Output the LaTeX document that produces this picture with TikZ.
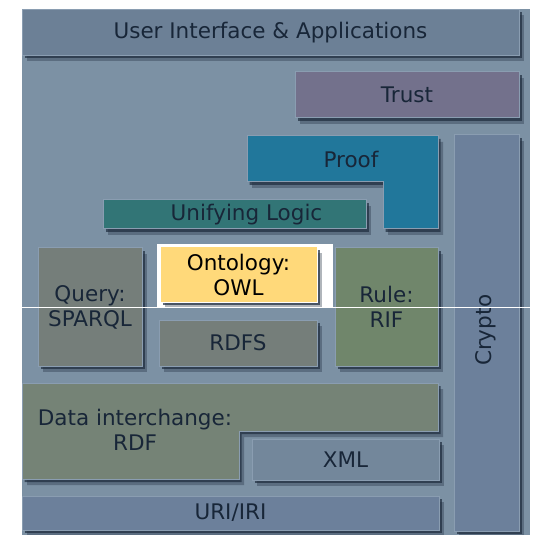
\documentclass[tikz,border=0pt]{standalone}
\usepackage{fontspec}
\setmainfont{DejaVu Sans}
\usepackage{tikz}
\usetikzlibrary{shadows}

\definecolor{panelbg}{RGB}{124,145,164}
\definecolor{edgeline}{RGB}{138,157,177}
\definecolor{inktext}{RGB}{24,38,56}
\definecolor{uicol}{RGB}{108,128,150}
\definecolor{trustcol}{RGB}{115,113,140}
\definecolor{proofcol}{RGB}{33,119,155}
\definecolor{logiccol}{RGB}{50,117,118}
\definecolor{cryptocol}{RGB}{108,128,155}
\definecolor{querycol}{RGB}{117,126,122}
\definecolor{owlcol}{RGB}{255,217,122}
\definecolor{rulecol}{RGB}{112,134,107}
\definecolor{rdfcol}{RGB}{117,131,118}
\definecolor{xmlcol}{RGB}{115,135,155}
\definecolor{shadowcol}{RGB}{30,44,62}

\begin{document}
\begin{tikzpicture}[x=1pt,y=-1pt,
  layer/.style={draw=edgeline,line width=1pt,text=inktext,inner sep=0pt,
    font=\fontsize{21.5}{25}\selectfont,align=center,
    drop shadow={shadow xshift=2.5pt,shadow yshift=-3pt,fill=shadowcol,opacity=.7},
    drop shadow={shadow xshift=5pt,shadow yshift=-6pt,fill=shadowcol,opacity=.35}},
  tag/.style={text=inktext,inner sep=0pt,font=\fontsize{21.5}{25}\selectfont,align=center}]
\useasboundingbox (0,0) rectangle (542,535);
\fill[panelbg] (22,9) rectangle (530,535);

\node (ui)[layer,fill=uicol,minimum width=497pt,minimum height=46pt] at (270.5,32.5) {User Interface \& Applications};
\node (trust)[layer,fill=trustcol,minimum width=224pt,minimum height=46pt] at (407,95) {Trust};
\node (crypto)[layer,fill=cryptocol,minimum width=65pt,minimum height=396pt] at (486.5,333) {};
\node (cryptotag)[tag,rotate=90] at (486,330) {Crypto};

\path[layer,fill=proofcol] (247,136) -- (438,136) -- (438,229) -- (383,229) -- (383,182) -- (247,182) -- cycle;
\node (proof)[tag] at (351,159) {Proof};
\node (logic)[layer,fill=logiccol,minimum width=263pt,minimum height=29pt] at (234.5,214.5) {\hspace*{24pt}Unifying Logic};

\node (query)[layer,fill=querycol,minimum width=104pt,minimum height=118pt] at (90,307) {Query:\\SPARQL};
\fill[white] (157,244) rectangle (333,307);
\node (owl)[layer,fill=owlcol,draw=white,text=black,minimum width=157pt,minimum height=55pt] at (238.5,274.5) {Ontology:\\OWL};
\node (rdfs)[layer,fill=querycol,minimum width=158pt,minimum height=46pt] at (238,343) {RDFS};
\node (rule)[layer,fill=rulecol,minimum width=103pt,minimum height=118pt] at (386.5,307) {Rule:\\RIF};

\path[layer,fill=rdfcol] (22,383) -- (438,383) -- (438,431) -- (239,431) -- (239,479) -- (22,479) -- cycle;
\node (rdf)[tag] at (135,430) {Data interchange:\\RDF};
\node (xml)[layer,fill=xmlcol,minimum width=187pt,minimum height=41pt] at (345.5,459.5) {XML};
\node (uri)[layer,fill=cryptocol,minimum width=417pt,minimum height=34pt] at (230.5,513) {URI/IRI};

\draw[white,line width=.8pt] (22,307) -- (530,307);
\end{tikzpicture}
\end{document}
